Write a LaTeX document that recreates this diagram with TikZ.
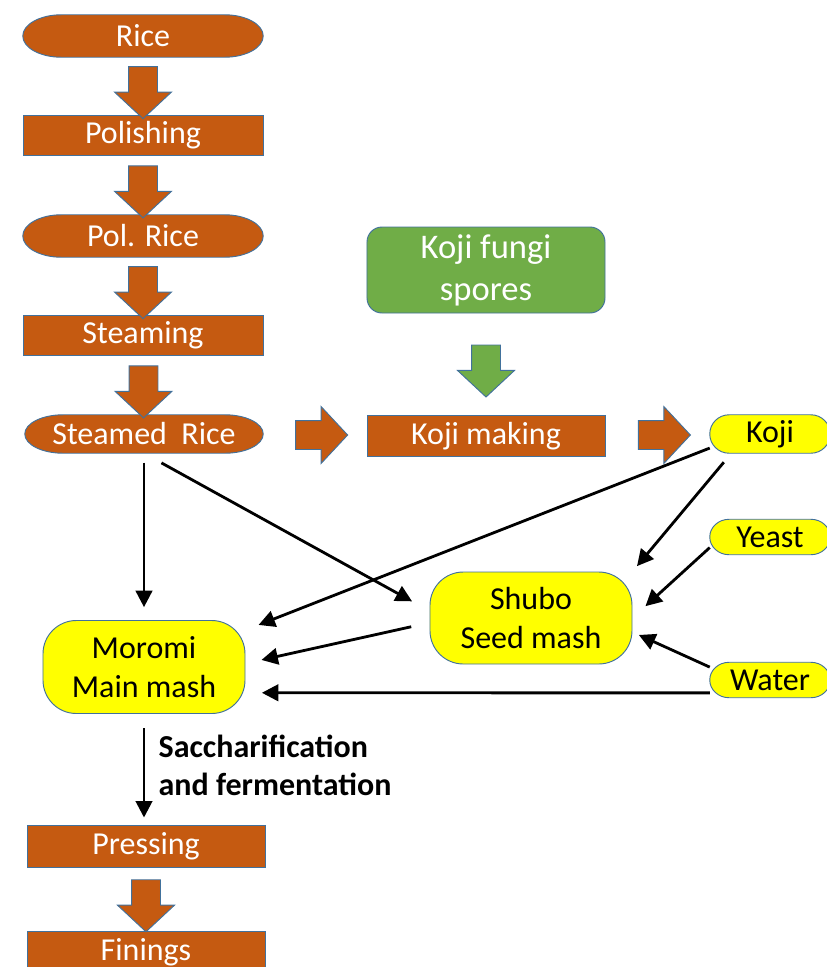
\documentclass[tikz,border=0pt]{standalone}
\usepackage{fontspec}
\setmainfont{Carlito}
\usetikzlibrary{arrows.meta, shapes.arrows, calc, backgrounds}
\definecolor{skorange}{HTML}{C55A11}
\definecolor{skgreen}{HTML}{70AD47}
\definecolor{skyellow}{HTML}{FFFF00}
\definecolor{skline}{HTML}{41719C}

\begin{document}
\begin{tikzpicture}[
  x=0.03cm, y=-0.03cm,
  every node/.style={font=\fontsize{27.3}{33}\selectfont},
  proc/.style={rectangle, draw=skline, line width=0.8pt, fill=skorange, text=white, minimum width=7.14cm, minimum height=1.2cm, inner sep=0pt},
  term/.style={rectangle, minimum width=7.2cm, minimum height=1.26cm, inner sep=0pt},
  termbg/.style={draw=skline, line width=0.8pt, fill=#1},
  mash/.style={rectangle, rounded corners=1cm, draw=skline, line width=0.8pt, fill=skyellow, minimum width=6.06cm, minimum height=2.76cm, align=center},
  fungi/.style={rectangle, rounded corners=0.45cm, draw=skline, line width=0.8pt, fill=skgreen, text=white, minimum width=7.14cm, minimum height=2.58cm, align=center, font=\fontsize{29.5}{36}\selectfont},
  bigarr/.style={single arrow, draw=skline, line width=0.8pt, fill=#1, minimum width=1.68cm, minimum height=1.56cm, single arrow head extend=0.42cm, single arrow tip angle=94, inner xsep=0pt, inner ysep=0.42cm},
  arr/.style={-{Triangle[length=14pt,width=14pt]}, line width=2.4pt},
  note/.style={font=\fontsize{27.3}{32.4}\selectfont\bfseries, align=left},
]
  \useasboundingbox (0,0) rectangle (826,967);

  \node[term, text=white] (rice) at (143,36) {Rice};
  \node[proc, minimum width=7.2cm] (polish) at (143,135) {Polishing};
  \node[term, text=white] (polrice) at (143,236) {Pol. Rice};
  \node[proc, minimum width=7.2cm] (steam) at (143,335) {Steaming};
  \node[term, text=white, minimum width=7.14cm, minimum height=1.14cm] (steamed) at (144,434) {Steamed\ \ Rice};

  \node[fungi] (spores) at (486,270) {Koji fungi\\spores};
  \node[proc, minimum height=1.23cm] (kojimk) at (486,436) {Koji making};
  \node[term, minimum width=3.6cm, minimum height=1.14cm] (koji) at (770,434) {Koji};
  \node[term, minimum width=3.6cm, minimum height=1.05cm] (yeast) at (770,537) {Yeast};
  \node[term, minimum width=3.6cm, minimum height=1.05cm] (water) at (770,680) {Water};

  \node[mash] (shubo) at (531,618) {Shubo\\Seed mash};
  \node[mash, minimum height=2.79cm] (moromi) at (144,667) {Moromi\\Main mash};

  \node[proc, minimum height=1.26cm] (press) at (146,846) {Pressing};
  \node[proc, minimum height=1.26cm] (finings) at (146,952) {Finings};

  \node[bigarr=skorange, rotate=-90] (a1) at ($(rice.south)!0.5!(polish.north)$) {};
  \node[bigarr=skorange, rotate=-90] (a2) at ($(polish.south)!0.5!(polrice.north)$) {};
  \node[bigarr=skorange, rotate=-90] (a3) at ($(polrice.south)!0.5!(steam.north)$) {};
  \node[bigarr=skorange, rotate=-90] (a4) at ($(steam.south)!0.5!(steamed.north)$) {};
  \node[bigarr=skorange] (a5) at ($(steamed.east)!0.5!(kojimk.west)$) {};
  \node[bigarr=skorange] (a6) at ($(kojimk.east)!0.5!(koji.west)$) {};
  \node[bigarr=skgreen, rotate=-90] (a7) at ($(spores.south)!0.5!(kojimk.north)$) {};
  \node[bigarr=skorange, rotate=-90] (a8) at ($(press.south)!0.5!(finings.north)$) {};

  \draw[arr, shorten <=8pt, shorten >=11pt] (steamed.south) -- (moromi.north);
  \draw[arr, shorten <=17pt, shorten >=17pt] (steamed.south) -- ([yshift=6pt]shubo.west);
  \draw[arr, shorten >=12pt] ([yshift=-12pt]koji.west) -- (moromi.20);
  \draw[arr, shorten <=10pt, shorten >=6pt] ([xshift=-33pt]koji.south) -- (shubo.north east);
  \draw[arr, shorten >=15pt] ([yshift=-9pt]yeast.west) -- (shubo.east);
  \draw[arr, shorten >=6pt] ([yshift=11pt]water.west) -- ([yshift=-12pt]shubo.east);
  \draw[arr, shorten <=16pt, shorten >=14pt] ([yshift=-4pt]shubo.west) -- ([yshift=3pt]moromi.east);
  \draw[arr, shorten >=14pt] ([yshift=-11pt]water.west) -- ([yshift=-22pt]moromi.east);
  \draw[arr, shorten <=12pt, shorten >=6pt] (moromi.south) -- (moromi.south |- press.north)
    node[midway, right=8pt, yshift=3pt, note] {Saccharification\\and fermentation};

  \begin{scope}[on background layer]
    \foreach \nm/\cl in {rice/skorange, polrice/skorange, steamed/skorange, koji/skyellow, yeast/skyellow, water/skyellow}
      \filldraw[termbg=\cl]
        let \p1=(\nm.north west), \p2=(\nm.south east),
            \n1={0.161*(\x2-\x1)}, \n2={(\y1-\y2)/2} in
        (\x1+\n1,\y1) -- (\x2-\n1,\y1)
        arc[start angle=90, end angle=-90, x radius=\n1, y radius=\n2]
        -- (\x1+\n1,\y2)
        arc[start angle=270, end angle=90, x radius=\n1, y radius=\n2] -- cycle;
  \end{scope}
\end{tikzpicture}
\end{document}
